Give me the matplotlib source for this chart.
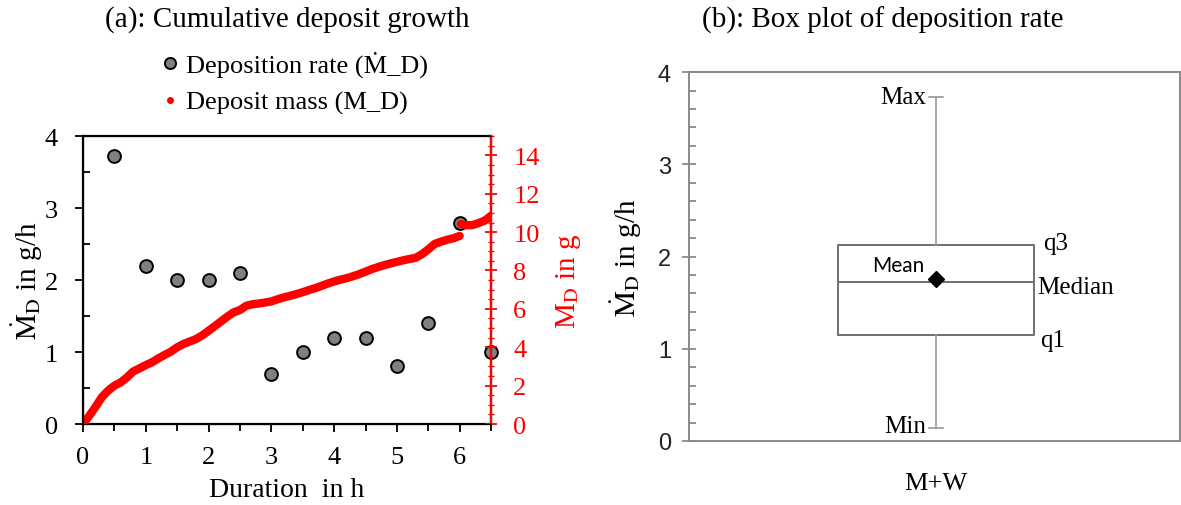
"""Deposit growth (a) and box plot of deposition rate (b)."""
import matplotlib
matplotlib.use("Agg")
import matplotlib.pyplot as plt
from matplotlib.lines import Line2D
from matplotlib.ticker import MultipleLocator

plt.rcParams["font.family"] = ["Liberation Serif", "DejaVu Serif"]
plt.rcParams["mathtext.fontset"] = "stix"

# Deposition rate samples (g/h)
rate_t = [0.5, 1.0, 1.5, 2.0, 2.5, 3.0, 3.5, 4.0, 4.5, 5.0, 5.5, 6.0, 6.5]
rate = [3.73, 2.2, 2.0, 2.0, 2.1, 0.7, 1.0, 1.2, 1.2, 0.8, 1.4, 2.8, 1.0]

# Cumulative deposit mass (g), first run segment up to 6 h
mass_t_a = [0.0, 0.1, 0.2, 0.3, 0.4, 0.5, 0.6, 0.7, 0.8, 0.9, 1.0, 1.1, 1.2,
            1.3, 1.4, 1.5, 1.6, 1.7, 1.8, 1.9, 2.0, 2.1, 2.2, 2.3, 2.4, 2.5,
            2.6, 2.7, 2.8, 2.9, 3.0, 3.1, 3.2, 3.3, 3.4, 3.5, 3.6, 3.7, 3.8,
            3.9, 4.0, 4.1, 4.2, 4.3, 4.4, 4.5, 4.6, 4.7, 4.8, 4.9, 5.0, 5.1,
            5.2, 5.3, 5.4, 5.5, 5.6, 5.7, 5.8, 5.9, 6.0]
mass_a = [0.0, 0.43, 0.9, 1.4, 1.74, 2.0, 2.17, 2.43, 2.74, 2.9, 3.07, 3.22,
          3.42, 3.6, 3.77, 4.0, 4.17, 4.3, 4.43, 4.62, 4.86, 5.1, 5.35, 5.6,
          5.82, 5.94, 6.16, 6.24, 6.28, 6.33, 6.39, 6.5, 6.6, 6.68, 6.77,
          6.87, 6.98, 7.08, 7.2, 7.32, 7.43, 7.52, 7.6, 7.7, 7.81, 7.94,
          8.07, 8.18, 8.28, 8.37, 8.45, 8.53, 8.6, 8.66, 8.85, 9.1, 9.38,
          9.5, 9.6, 9.68, 9.8]
# second segment after the jump at 6 h
mass_t_b = [6.02, 6.1, 6.2, 6.3, 6.4, 6.5]
mass_b = [10.42, 10.36, 10.36, 10.47, 10.6, 10.85]

# Box plot statistics of deposition rate (g/h)
box_label = "M+W"
rate_min = 0.14
rate_q1 = 1.15
rate_median = 1.72
rate_q3 = 2.13
rate_max = 3.73
rate_mean = 1.76

RED = "#ff0000"

fig = plt.figure(figsize=(11.81, 5.06), dpi=100)

# ---- (a) cumulative deposit growth ----
ax = fig.add_axes([0.0703, 0.160, 0.3455, 0.569])
ax.scatter(rate_t, rate, s=85, color="#808080", edgecolor="black",
           linewidth=1.4, zorder=3, clip_on=False)
ax.set_xlim(0, 6.5)
ax.set_ylim(0, 4)
ax.xaxis.set_major_locator(MultipleLocator(1))
ax.xaxis.set_minor_locator(MultipleLocator(0.5))
ax.yaxis.set_major_locator(MultipleLocator(1))
ax.yaxis.set_minor_locator(MultipleLocator(0.5))
ax.tick_params(axis="both", which="major", labelsize=19, width=1.3,
               length=6, direction="out")
ax.tick_params(axis="x", which="major", pad=10)
ax.tick_params(axis="y", which="major", pad=12)
ax.tick_params(axis="x", which="minor", width=1.3, length=5, direction="out")
ax.tick_params(axis="y", which="minor", width=1.3, length=5, direction="in")
for sp in ax.spines.values():
    sp.set_linewidth(1.6)
ax.set_xlabel("Duration  in h", fontsize=20, labelpad=6)
ax.set_ylabel(r"$\dot{\mathrm{M}}_\mathrm{D}$ in g/h", fontsize=21,
              labelpad=0)

ax2 = ax.twinx()
ax2.plot(mass_t_a, mass_a, color=RED, lw=6, solid_capstyle="round",
         solid_joinstyle="round")
ax2.plot(mass_t_b, mass_b, color=RED, lw=6, solid_capstyle="round",
         solid_joinstyle="round")
ax2.set_ylim(0, 15)
ax2.yaxis.set_major_locator(MultipleLocator(2))
ax2.yaxis.set_minor_locator(MultipleLocator(0.5))
ax2.tick_params(axis="y", which="major", colors=RED, labelsize=19,
                width=1.3, length=8, direction="inout", pad=12)
ax2.tick_params(axis="y", which="minor", colors=RED, width=1.0,
                length=5, direction="inout")
ax2.spines["right"].set_color(RED)
ax2.spines["right"].set_linewidth(1.6)
ax2.set_ylabel(r"M$_\mathrm{D}$ in g", fontsize=21, color=RED, labelpad=10)

handles = [
    Line2D([], [], marker="o", ls="none", markersize=8,
           markerfacecolor="#808080", markeredgecolor="black",
           markeredgewidth=1.4),
    Line2D([], [], marker="o", ls="none", markersize=4, color=RED),
]
fig.legend(handles, ["Deposition rate (Ṁ_D)", "Deposit mass (M_D)"],
           loc="upper left", bbox_to_anchor=(133 / 1181, 1 - 28 / 506),
           frameon=False, fontsize=19, handletextpad=0.1,
           handlelength=1.0, labelspacing=0.5)
fig.text(287 / 1181, 1 - 20 / 506, "(a): Cumulative deposit growth",
         fontsize=21, ha="center", va="center")

# ---- (b) box plot ----
bx = fig.add_axes([0.5834, 0.1265, 0.4157, 0.729])
stats = [dict(label=box_label, whislo=rate_min, q1=rate_q1,
              med=rate_median, q3=rate_q3, whishi=rate_max,
              mean=rate_mean)]
bx.bxp(stats, positions=[1], widths=0.4, showmeans=True, showfliers=False,
       boxprops=dict(color="#6f6f6f", linewidth=1.4),
       medianprops=dict(color="#6f6f6f", linewidth=1.4),
       whiskerprops=dict(color="#9a9a9a", linewidth=1.2),
       capprops=dict(color="#9a9a9a", linewidth=1.2),
       capwidths=0.03,
       meanprops=dict(marker="D", markerfacecolor="black",
                      markeredgecolor="black", markersize=8))
bx.set_xlim(0.497, 1.497)
bx.set_ylim(0, 4)
bx.yaxis.set_major_locator(MultipleLocator(1))
bx.yaxis.set_minor_locator(MultipleLocator(0.2))
bx.tick_params(axis="y", which="major", labelsize=17, width=1.2,
               length=10, direction="inout", color="#808080", pad=8)
bx.tick_params(axis="y", which="minor", width=1.2, length=5,
               direction="in", color="#808080")
for t in bx.get_yticklabels():
    t.set_family(["Liberation Sans", "DejaVu Sans"])
    t.set_color("#222222")
bx.tick_params(axis="x", length=0, labelsize=19, pad=22)
for sp in bx.spines.values():
    sp.set_color("#8a8a8a")
    sp.set_linewidth(1.4)
bx.set_ylabel(r"$\dot{\mathrm{M}}_\mathrm{D}$ in g/h", fontsize=21,
              labelpad=10)

lbl = dict(fontsize=18)
bx.text(0.98, rate_max, "Max", ha="right", va="center", **lbl)
bx.text(0.98, rate_min + 0.02, "Min", ha="right", va="center", **lbl)
bx.text(1.218, rate_q3 + 0.02, "q3", ha="left", va="center", **lbl)
bx.text(1.206, rate_median - 0.05, "Median", ha="left", va="center", **lbl)
bx.text(1.212, rate_q1 - 0.05, "q1", ha="left", va="center", **lbl)
bx.text(0.923, rate_mean + 0.15, "Mean", ha="center", va="center",
        fontsize=15, family=["Lato", "DejaVu Sans"])
fig.text(883 / 1181, 1 - 20 / 506, "(b): Box plot of deposition rate",
         fontsize=21, ha="center", va="center")

fig.savefig("out.png", dpi=100)
